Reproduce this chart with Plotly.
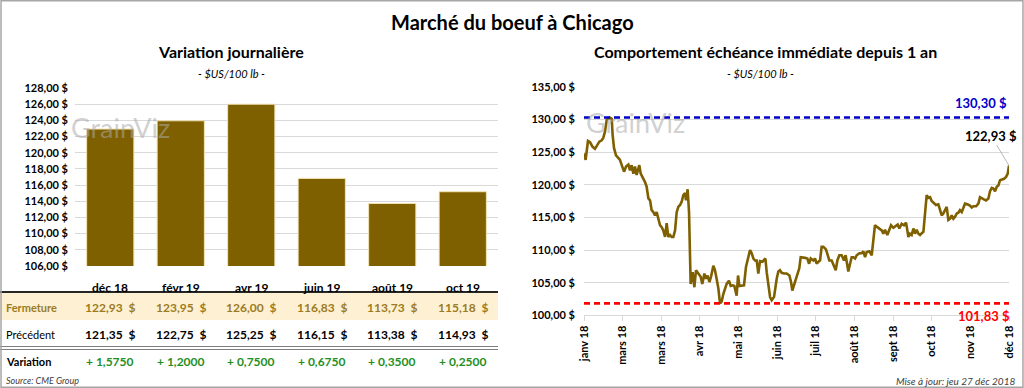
import plotly.graph_objects as go

W, H = 1024, 388
FONT = "Lato"

# ---------------- data ----------------
contracts = ["déc 18", "févr 19", "avr 19", "juin 19", "août 19", "oct 19"]
closing = [122.93, 123.95, 126.00, 116.83, 113.73, 115.18]
previous = [121.35, 122.75, 125.25, 116.15, 113.38, 114.93]
variation = [1.5750, 1.2000, 0.7500, 0.6750, 0.3500, 0.2500]

left_ticks = [106, 108, 110, 112, 114, 116, 118, 120, 122, 124, 126, 128]

days = [0, 1.4, 3.4, 5.2, 7.4, 9.4, 11.5, 13.2, 15.2, 16.6, 18.0, 19.5, 21.8, 23.8, 24.6,
        25.8, 27.5, 29.5, 30.9, 32.4, 34.4, 36.1, 38.1, 39.5, 40.9, 42.4, 43.8, 45.2, 47.5,
        48.7, 50.4, 52.4, 53.8, 55.3, 56.7, 58.1, 59.6, 61.0, 62.4, 63.8, 65.3, 66.7, 68.1,
        69.6, 71.0, 72.4, 73.9, 75.3, 76.7, 78.2, 79.6, 81.0, 82.5, 83.9, 85.3, 86.8, 87.6,
        89.0, 90.2, 91.6, 93.3, 94.8, 96.2, 98.2, 100.2, 101.6, 103.4, 104.8, 106.2, 107.7,
        109.1, 111.1, 112.5, 113.9, 115.4, 116.8, 118.2, 119.7, 121.1, 122.5, 124.5, 126.0,
        127.7, 129.1, 131.1, 132.3, 133.4, 135.4, 137.4, 139.1, 140.6, 142.6, 144.0, 145.5,
        146.9, 148.3, 149.7, 151.2, 153.2, 154.6, 155.8, 156.9, 158.3, 159.8, 161.2, 163.2,
        165.5, 166.9, 168.3, 169.8, 171.8, 174.1, 176.4, 177.8, 178.9, 180.4, 182.1, 183.5,
        184.9, 186.1, 187.8, 189.8, 191.8, 193.3, 194.7, 197.0, 198.4, 199.8, 201.3, 202.7,
        204.1, 205.6, 207.8, 209.3, 210.7, 212.7, 214.7, 216.2, 217.6, 219.3, 221.3, 223.3,
        224.7, 225.6, 227.0, 228.5, 229.9, 231.3, 232.8, 234.2, 236.5, 238.5, 239.9, 241.4,
        242.8, 245.1, 247.1, 248.5, 249.9, 251.9, 253.7, 255.7, 257.1, 258.5, 260.5, 262.3,
        263.7, 265.7, 267.7, 269.4, 270.8, 272.8, 274.8, 276.6, 278.6, 280.0, 281.4, 282.9,
        284.3, 285.7, 287.2, 288.6, 291.5, 292.9, 294.3, 295.7, 297.2, 298.6, 300.6, 302.3,
        304.3, 305.8, 307.2, 308.6, 310.1, 311.5, 312.9, 314.4, 315.8, 317.2, 318.7, 320.1,
        321.5, 322.9, 324.4, 325.8, 327.2, 329.2, 331.5, 333.0, 334.4, 336.7, 338.7, 340.1,
        341.6, 343.0, 345.3, 347.3, 348.7, 350.2, 351.6, 353.0, 354.5, 355.9, 357.3, 358.7,
        360.7, 362.5, 363.9, 365]
prices = [124.8, 123.8, 126.7, 126.5, 125.8, 125.5, 126.1, 126.6, 126.8, 127.2, 128.1, 129.9,
          130.3, 130.1, 127.6, 125.6, 124.5, 124.0, 123.8, 123.0, 122.0, 122.8, 123.1, 122.2,
          123.0, 121.7, 122.8, 121.5, 123.0, 121.7, 121.2, 120.4, 119.7, 117.9, 117.6, 116.1,
          115.8, 115.3, 115.8, 115.0, 113.8, 113.5, 113.0, 112.0, 114.1, 112.0, 112.3, 112.0,
          112.0, 113.0, 115.8, 116.6, 116.9, 117.4, 118.4, 118.7, 117.6, 119.3, 115.8, 104.8,
          106.6, 104.3, 106.9, 106.4, 105.9, 104.8, 106.4, 105.6, 106.1, 105.1, 105.9, 107.6,
          106.9, 105.6, 104.1, 101.83, 102.1, 103.3, 104.1, 104.8, 105.3, 104.5, 104.6, 104.5,
          103.0, 106.1, 104.5, 104.6, 104.6, 107.4, 108.7, 110.0, 109.5, 108.7, 108.4, 108.4,
          106.4, 108.3, 108.2, 108.4, 108.7, 106.6, 104.6, 102.8, 102.3, 102.8, 105.6, 106.7,
          106.9, 106.5, 106.4, 106.4, 106.1, 105.1, 103.8, 104.7, 105.6, 106.4, 107.2, 108.9,
          108.9, 108.8, 108.7, 107.9, 108.7, 108.4, 108.7, 107.9, 108.2, 108.4, 110.5, 110.5,
          110.1, 109.2, 108.4, 108.4, 107.4, 106.9, 108.4, 109.2, 109.2, 108.4, 109.2, 108.2,
          106.7, 107.9, 108.9, 108.9, 108.7, 109.2, 109.5, 109.5, 109.8, 108.9, 109.7, 109.8,
          109.2, 111.5, 113.8, 113.5, 113.3, 113.0, 112.5, 113.1, 112.3, 113.0, 113.8, 113.4,
          113.7, 113.9, 113.3, 114.0, 113.8, 114.2, 112.0, 112.5, 112.3, 113.3, 112.5, 113.1,
          112.5, 112.3, 112.8, 115.8, 118.4, 118.0, 118.1, 117.5, 117.1, 116.9, 117.0, 116.1,
          115.3, 115.6, 116.1, 116.6, 114.6, 114.8, 115.3, 114.8, 115.1, 115.6, 115.7, 116.1,
          115.8, 116.4, 117.1, 117.0, 116.8, 116.5, 116.7, 116.7, 117.1, 118.1, 117.9, 117.8,
          117.6, 117.9, 119.0, 119.5, 119.4, 119.0, 119.7, 119.9, 120.7, 120.8, 120.9, 121.2,
          121.7, 122.93]
max_price = 130.30
min_price = 101.83
last_price = 122.93

right_ticks = [100, 105, 110, 115, 120, 125, 130, 135]
month_labels = ["janv 18", "mars 18", "mars 18", "avr 18", "mai 18", "juin 18",
                "juil 18", "août 18", "sept 18", "oct 18", "nov 18", "déc 18"]
period_days = 365

# ---------------- helpers ----------------
def fr(v, d=2):
    return f"{v:,.{d}f}".replace(",", " ").replace(".", ",")

def px_x(p):
    return p / W

def px_y(p):
    return 1 - p / H

BROWN = "#7f6000"
GRID = "#d9d9d9"
GOLD = "#9c7b22"
GREEN = "#1f8f1f"

fig = go.Figure()

fig.add_trace(go.Bar(
    x=contracts, y=closing, xaxis="x", yaxis="y",
    marker=dict(color=BROWN, line=dict(color="#f3e3b5", width=1)),
    hoverinfo="skip",
))

fig.add_trace(go.Scatter(
    x=days, y=prices, xaxis="x2", yaxis="y2", mode="lines",
    line=dict(color=BROWN, width=2.6), hoverinfo="skip",
))
fig.add_trace(go.Scatter(
    x=[0, period_days], y=[max_price, max_price], xaxis="x2", yaxis="y2", mode="lines",
    line=dict(color="#0000c8", width=2.6, dash="6px,4px"), hoverinfo="skip",
))
fig.add_trace(go.Scatter(
    x=[0, period_days], y=[min_price, min_price], xaxis="x2", yaxis="y2", mode="lines",
    line=dict(color="#ff0000", width=2.6, dash="6px,4px"), hoverinfo="skip",
))

tick_step = period_days / (len(month_labels) - 1)
right_tickvals = [i * tick_step for i in range(len(month_labels))]

fig.update_layout(
    width=W, height=H, margin=dict(l=0, r=0, t=0, b=0, pad=0, autoexpand=False),
    paper_bgcolor="white", plot_bgcolor="white", showlegend=False,
    font=dict(family=FONT, color="black"),
    bargap=0.33,
    xaxis=dict(domain=[px_x(75), px_x(498)], showticklabels=False, ticks="",
               showline=False, showgrid=False, automargin=False),
    yaxis=dict(domain=[px_y(266), px_y(88)], range=[106, 128],
               tickvals=left_ticks, ticktext=[fr(v) + " $" for v in left_ticks],
               tickfont=dict(size=11, family=FONT, color="black", weight="bold"),
               gridcolor=GRID, gridwidth=1, showline=False, zeroline=False,
               ticks="", ticklabelstandoff=6, automargin=False),
    xaxis2=dict(domain=[px_x(584), px_x(1009)], range=[0, period_days],
                tickvals=right_tickvals, ticktext=month_labels, tickangle=-90,
                tickfont=dict(size=11, family=FONT, color="black", weight="bold"),
                showgrid=False, showline=True, linecolor=GRID, linewidth=1,
                ticks="outside", ticklen=5, tickcolor=GRID, zeroline=False,
                anchor="y2", automargin=False),
    yaxis2=dict(domain=[px_y(315.3), px_y(86.8)], range=[100, 135],
                tickvals=right_ticks, ticktext=[fr(v) + " $" for v in right_ticks],
                tickfont=dict(size=11, family=FONT, color="black", weight="bold"),
                gridcolor=GRID, gridwidth=1, showline=False, zeroline=False,
                ticks="", ticklabelstandoff=8, anchor="x2", automargin=False),
)

ann = []
shapes = []

# titles
ann.append(dict(text="<b>Marché du boeuf à Chicago</b>", x=0.5, y=px_y(22), xref="paper",
                yref="paper", showarrow=False, font=dict(size=20, family=FONT),
                xanchor="center", yanchor="middle"))
ann.append(dict(text="<b>Variation journalière</b>", x=px_x(231), y=px_y(52), xref="paper",
                yref="paper", showarrow=False, font=dict(size=16, family=FONT),
                xanchor="center", yanchor="middle"))
ann.append(dict(text="<i>- $US/100 lb -</i>", x=px_x(231), y=px_y(73), xref="paper",
                yref="paper", showarrow=False, font=dict(size=11, family=FONT),
                xanchor="center", yanchor="middle"))
ann.append(dict(text="<b>Comportement échéance immédiate depuis 1 an</b>", x=px_x(765),
                y=px_y(52), xref="paper", yref="paper", showarrow=False,
                font=dict(size=16, family=FONT), xanchor="center", yanchor="middle"))
ann.append(dict(text="<i>- $US/100 lb -</i>", x=px_x(760), y=px_y(73), xref="paper",
                yref="paper", showarrow=False, font=dict(size=11, family=FONT),
                xanchor="center", yanchor="middle"))

# watermarks
for xc, yc in [(120, 128), (635, 122)]:
    ann.append(dict(text="GrainViz", x=px_x(xc), y=px_y(yc), xref="paper", yref="paper",
                    showarrow=False, font=dict(size=27, family=FONT, color="rgba(170,170,170,0.55)"),
                    xanchor="center", yanchor="middle"))

# table
shapes.append(dict(type="rect", xref="paper", yref="paper", x0=0, x1=px_x(498),
                   y0=px_y(320), y1=px_y(293), fillcolor="#fdf0d3", line=dict(width=0),
                   layer="below"))
shapes.append(dict(type="line", xref="paper", yref="paper", x0=0, x1=px_x(498),
                   y0=px_y(292), y1=px_y(292), line=dict(color="#262626", width=2)))
for yy in (346.5, 349.5):
    shapes.append(dict(type="line", xref="paper", yref="paper", x0=0, x1=px_x(498),
                       y0=px_y(yy), y1=px_y(yy), line=dict(color="#7f7f7f", width=1.2)))

rows = [
    ("<b>Fermeture</b>", GOLD, 307),
    ("Précédent", "black", 334),
    ("<b>Variation</b>", "black", 361),
]
for label, col, yy in rows:
    ann.append(dict(text=label, x=px_x(4), y=px_y(yy), xref="paper", yref="paper",
                    showarrow=False, font=dict(size=11, family=FONT, color=col),
                    xanchor="left", yanchor="middle"))

NB = "\u00a0"
for i, c in enumerate(contracts):
    ann.append(dict(text=f"<b>{c}</b>", x=c, y=px_y(287), xref="x", yref="paper",
                    showarrow=False, font=dict(size=12, family=FONT), xanchor="center",
                    yanchor="middle"))
    ann.append(dict(text=f"<b>{fr(closing[i])}{NB}{NB}$</b>", x=c, y=px_y(307), xref="x",
                    yref="paper", showarrow=False, font=dict(size=12, family=FONT, color=GOLD),
                    xanchor="center", yanchor="middle"))
    ann.append(dict(text=f"<b>{fr(previous[i])}{NB}{NB}$</b>", x=c, y=px_y(334), xref="x",
                    yref="paper", showarrow=False, font=dict(size=12, family=FONT),
                    xanchor="center", yanchor="middle"))
    ann.append(dict(text=f"<b>+ {fr(variation[i], 4)}</b>", x=c, y=px_y(361), xref="x",
                    yref="paper", showarrow=False, font=dict(size=12, family=FONT, color=GREEN),
                    xanchor="center", yanchor="middle"))

ann.append(dict(text="<i>Source: CME Group</i>", x=px_x(4), y=px_y(380), xref="paper",
                yref="paper", showarrow=False, font=dict(size=9, family=FONT, color="#404040"),
                xanchor="left", yanchor="middle"))
ann.append(dict(text="<i>Mise à jour: jeu 27 déc 2018</i>", x=px_x(1017), y=px_y(381),
                xref="paper", yref="paper", showarrow=False,
                font=dict(size=10, family=FONT, color="#404040"), xanchor="right",
                yanchor="middle"))

# right chart labels
ann.append(dict(text=f"<b>{fr(max_price)} $</b>", x=period_days, y=max_price, xref="x2",
                yref="y2", showarrow=False, font=dict(size=13, family=FONT, color="#0000c8"),
                xanchor="right", yanchor="bottom", yshift=4))
ann.append(dict(text=f"<b>{fr(min_price)} $</b>", x=period_days, y=min_price, xref="x2",
                yref="y2", showarrow=False, font=dict(size=13, family=FONT, color="#ff0000"),
                xanchor="right", yanchor="top", yshift=-3, xshift=3))
ann.append(dict(text=f"<b>{fr(last_price)} $</b>", x=period_days, y=last_price, xref="x2",
                yref="y2", showarrow=True, ax=-18, ay=-30, arrowhead=0, arrowwidth=0.8,
                arrowcolor="#a6a6a6", font=dict(size=13, family=FONT, color="black")))

# outer frame
shapes.append(dict(type="rect", xref="paper", yref="paper", x0=0.001, x1=0.999,
                   y0=0.002, y1=0.998, line=dict(color="#a6a6a6", width=1.5),
                   fillcolor="rgba(0,0,0,0)"))

fig.update_layout(annotations=ann, shapes=shapes)
fig.write_html(
    "out.html",
    config={"displayModeBar": False},
    post_script="document.body.style.margin='0';document.body.style.overflow='hidden';",
)
